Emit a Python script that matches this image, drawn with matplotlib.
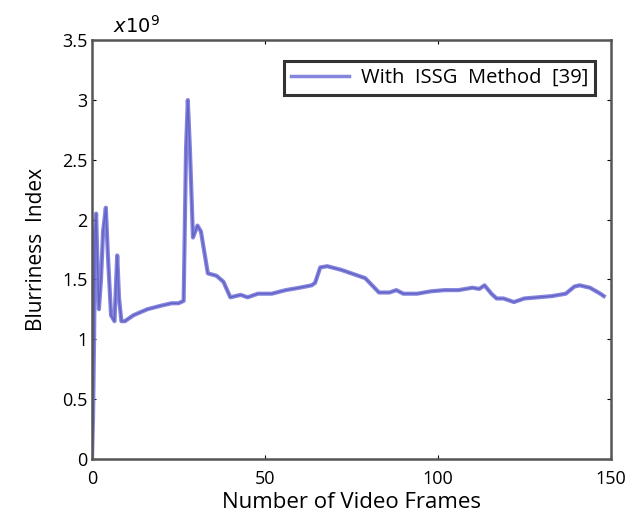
import numpy as np
import matplotlib
matplotlib.use("Agg")
from matplotlib import pyplot as plt

# frame index and blurriness index (x10^9)
frames = [0, 0.3, 0.6, 0.9, 1.2, 1.6, 2.0, 2.6, 3.2, 4.0, 4.6, 5.5, 6.5, 7.0, 7.3,
          7.8, 8.5, 9.5, 12, 16, 20, 23, 25, 26.5, 27.2, 27.7, 28.3, 29.2, 30.5,
          31.5, 33.5, 36, 38, 40, 43, 45, 48, 52, 56, 60, 63.5, 64.5, 66, 68,
          72, 75, 79, 81, 83, 86, 88, 90, 94, 98, 102, 106, 110, 112, 113.5,
          115.5, 117, 119, 122, 125, 129, 133, 137, 139.5, 141, 144, 147, 148]
blur = [0.0, 0.35, 1.0, 1.9, 2.05, 1.6, 1.25, 1.5, 1.9, 2.1, 1.7, 1.2, 1.15, 1.5, 1.7,
        1.35, 1.15, 1.15, 1.2, 1.25, 1.28, 1.3, 1.3, 1.32, 2.6, 3.0, 2.6, 1.85, 1.95,
        1.9, 1.55, 1.53, 1.48, 1.35, 1.37, 1.35, 1.38, 1.38, 1.41, 1.43, 1.45, 1.47,
        1.6, 1.61, 1.58, 1.55, 1.51, 1.45, 1.39, 1.39, 1.41, 1.38, 1.38, 1.4, 1.41,
        1.41, 1.43, 1.42, 1.45, 1.38, 1.34, 1.34, 1.31, 1.34, 1.35, 1.36, 1.38,
        1.44, 1.45, 1.43, 1.38, 1.36]
xticks = [0, 50, 100, 150]
yticks = [0, 0.5, 1, 1.5, 2, 2.5, 3, 3.5]
ytick_labels = ["0", "0.5", "1", "1.5", "2", "2.5", "3", "3.5"]

plt.rcParams["font.family"] = ["Open Sans", "DejaVu Sans"]

fig = plt.figure(figsize=(6.28, 5.23), dpi=100)
ax = fig.add_axes([0.1465, 0.123, 0.826, 0.8])

ax.plot(frames, blur, color="#7070d8", lw=3.0, alpha=0.85,
        label="With  ISSG  Method  [39]")
ax.plot(frames, blur, color="#4a4ab8", lw=1.0, alpha=0.6)

ax.set_xlim(0, 150)
ax.set_ylim(0, 3.5)
ax.set_xticks(xticks)
ax.set_yticks(yticks)
ax.set_yticklabels(ytick_labels)
ax.tick_params(direction="in", length=3, labelsize=13, top=True, right=True,
               pad=3)
ax.tick_params(axis="x", pad=8)
for s in ax.spines.values():
    s.set_color("#555555")
    s.set_linewidth(1.8)

ax.set_xlabel("Number of Video Frames", fontsize=16, labelpad=3)
ax.set_ylabel("Blurriness  Index", fontsize=15, labelpad=11)
ax.text(0.04, 1.008, r"$x10^9$", transform=ax.transAxes, fontsize=14,
        family="DejaVu Serif", ha="left", va="bottom")

leg = ax.legend(loc="upper right", bbox_to_anchor=(0.99, 0.975), fontsize=14.5,
                fancybox=False, handlelength=2.9, borderpad=0.35,
                handletextpad=0.6)
leg.get_frame().set_edgecolor("black")
leg.get_frame().set_linewidth(2.2)
leg.get_lines()[0].set_linewidth(2.5)

fig.savefig("out.png", dpi=100)
